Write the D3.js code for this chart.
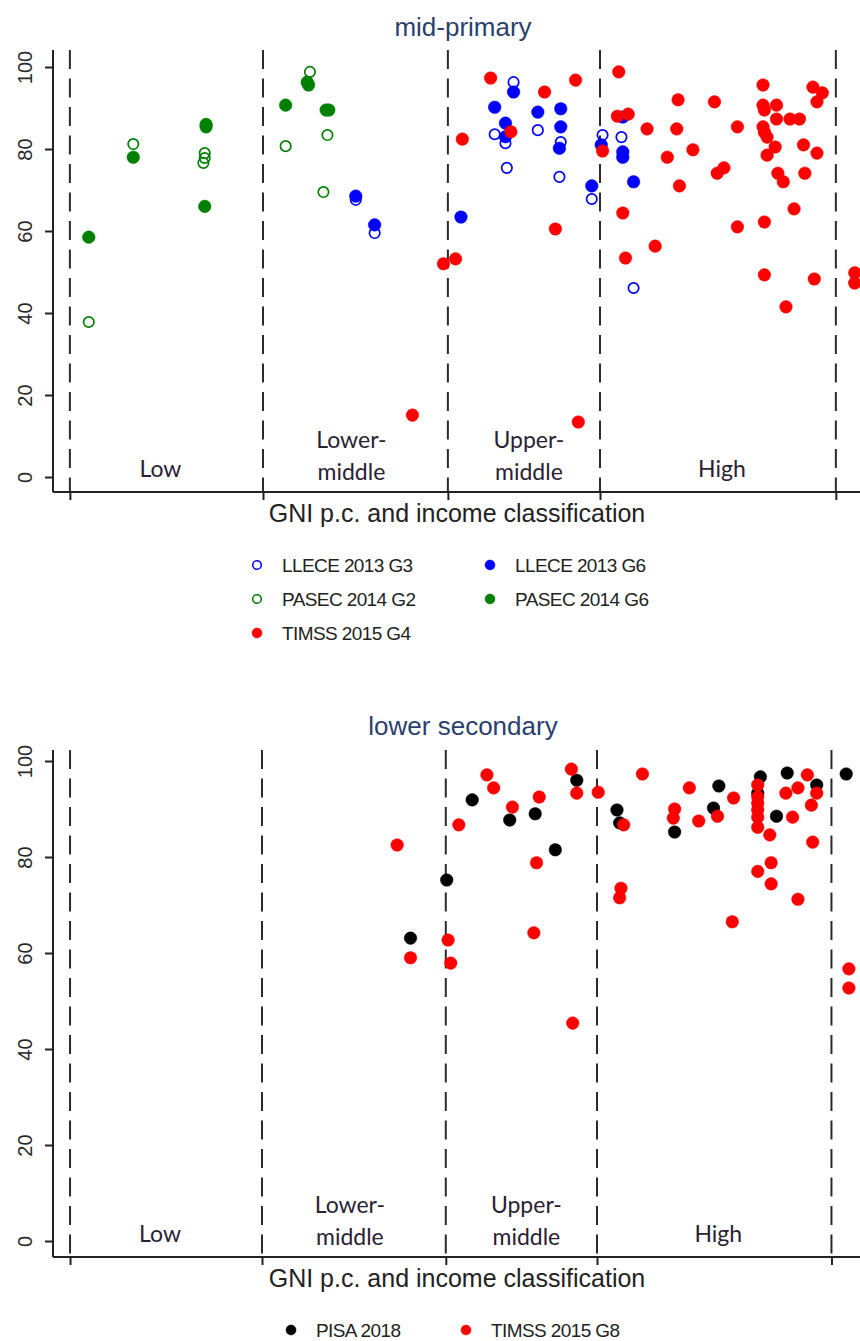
<!DOCTYPE html>
<html>
<head>
<meta charset="utf-8">
<script src="https://cdn.jsdelivr.net/npm/d3@7/dist/d3.min.js"></script>
<style>
  body { margin: 0; background: #fff; }
  svg { display: block; }
</style>
</head>
<body>
<div id="chart"></div>
<script>
// x = ln(GNI per capita), y = percent of students
const incomeBreaks = [5.5, 6.932, 8.303, 9.431, 11.18]
const incomeGroups = [["Low"], ["Lower-", "middle"], ["Upper-", "middle"], ["High"]]
const yTicks = [0, 20, 40, 60, 80, 100]

// mid-primary
const llece2013G3 = [[7.62,67.6],[7.76,59.5],[8.79,96.3],[8.65,83.6],[8.73,81.4],[8.74,75.4],[8.97,84.6],
  [9.14,81.7],[9.13,73.2],[9.37,67.8],[9.45,83.4],[9.59,82.9],[9.68,46.1]]
const llece2013G6 = [[7.62,68.5],[7.76,61.5],[8.40,63.4],[8.79,93.9],[8.65,90.2],[8.73,86.3],[8.73,83],
  [8.97,89],[9.14,89.8],[9.14,85.4],[9.13,80.2],[9.37,71],[9.44,81],[9.60,87.8],[9.60,79.3],[9.60,78],[9.68,72]]
const pasec2014G2 = [[5.64,37.8],[5.97,81.2],[6.50,79],[6.50,77.8],[6.49,76.6],[7.10,80.7],[7.28,98.8],
  [7.41,83.4],[7.38,69.5]]
const pasec2014G6 = [[5.64,58.5],[5.97,78],[6.51,85.4],[6.51,86],[6.50,66],[7.10,90.7],[7.27,95.6],
  [7.26,96.3],[7.40,89.5],[7.42,89.5]]
const timss2015G4 = [[8.04,15.1],[8.27,52],[8.36,53.2],[8.41,82.4],[8.62,97.3],[8.77,84.2],[9.02,93.9],
  [9.25,96.8],[9.10,60.5],[9.27,13.4],[9.45,79.5],[9.57,98.8],[9.56,88],[9.64,88.5],[9.60,64.4],[9.62,53.4],
  [9.78,84.9],[9.84,56.3],[9.93,78],[10.00,84.9],[10.01,92],[10.02,71],[10.12,79.8],[10.28,91.5],[10.30,74.1],
  [10.35,75.4],[10.45,61],[10.45,85.4],[10.64,95.6],[10.64,90.7],[10.65,89.5],[10.64,85.4],[10.65,84.1],
  [10.67,82.9],[10.74,90.7],[10.74,87.3],[10.73,80.5],[10.67,78.5],[10.75,74.1],[10.79,72],[10.65,62.2],
  [10.65,49.3],[10.84,87.3],[10.91,87.3],[10.87,65.4],[10.81,41.5],[10.94,81],[10.95,74.1],[11.04,79],
  [11.01,95.1],[11.08,93.7],[11.04,91.5],[11.02,48.3],[11.32,49.8],[11.32,47.3]]

// lower secondary
const pisa2018 = [[8.04,63.1],[8.31,75.2],[8.50,91.9],[8.78,87.7],[8.97,89],[9.12,81.5],[9.28,96],[9.58,89.8],
  [9.60,87.1],[10.01,85.2],[10.30,90.2],[10.34,94.8],[10.65,96.7],[10.63,93.3],[10.77,88.5],[10.85,97.5],
  [11.07,95],[11.29,97.3]]
const timss2015G8 = [[7.94,82.5],[8.04,59],[8.32,62.7],[8.34,57.9],[8.40,86.7],[8.61,97.1],[8.66,94.4],
  [8.80,90.4],[9.00,92.5],[8.98,78.8],[8.96,64.2],[9.24,98.3],[9.28,93.3],[9.25,45.4],[9.44,93.5],[9.63,86.7],
  [9.61,73.5],[9.60,71.5],[9.77,97.3],[10.01,90],[10.00,88.1],[10.12,94.4],[10.19,87.5],[10.33,88.5],
  [10.44,66.5],[10.45,92.3],[10.63,95],[10.63,92.5],[10.63,91.2],[10.63,89.8],[10.63,88.3],[10.63,86.2],
  [10.63,77],[10.72,84.6],[10.73,78.8],[10.73,74.4],[10.84,93.3],[10.93,94.4],[10.89,88.3],[10.93,71.2],
  [11.00,97.1],[11.07,93.3],[11.03,90.8],[11.04,83.1],[11.31,56.7],[11.31,52.7]]

const W = 860, H = 1341
const fontMain = "'Liberation Sans', Arial, sans-serif"
const fontLabel = "Lato, 'Open Sans', sans-serif"
const labelShift = [-6, -4, 5, 4]

const panels = [
  {
    title: "mid-primary", titleY: 36, top: 50, axisY: 492, y0: 477, y100: 67, xr: [263, 600],
    series: [
      { name: "LLECE 2013 G3", data: llece2013G3, color: "#0000ff", hollow: true, col: 0, row: 0 },
      { name: "LLECE 2013 G6", data: llece2013G6, color: "#0000ff", hollow: false, col: 1, row: 0 },
      { name: "PASEC 2014 G2", data: pasec2014G2, color: "#008000", hollow: true, col: 0, row: 1 },
      { name: "PASEC 2014 G6", data: pasec2014G6, color: "#008000", hollow: false, col: 1, row: 1 },
      { name: "TIMSS 2015 G4", data: timss2015G4, color: "#ff0000", hollow: false, col: 0, row: 2 }
    ],
    legendX: [257, 490], legendY: [565, 599, 633]
  },
  {
    title: "lower secondary", titleY: 735, top: 750, axisY: 1257, y0: 1241, y100: 761, xr: [262, 597],
    series: [
      { name: "PISA 2018", data: pisa2018, color: "#000000", hollow: false, col: 0, row: 0 },
      { name: "TIMSS 2015 G8", data: timss2015G8, color: "#ff0000", hollow: false, col: 1, row: 0 }
    ],
    legendX: [291, 466], legendY: [1330]
  }
]

const svg = d3.select("#chart").append("svg")
  .attr("width", W)
  .attr("height", H)
  .style("font-family", fontMain)

const yAxisX = 53

panels.forEach(p => {
  const x = d3.scaleLinear().domain([incomeBreaks[1], incomeBreaks[3]]).range(p.xr)
  const y = d3.scaleLinear().domain([0, 100]).range([p.y0, p.y100])
  const g = svg.append("g")

  // title
  g.append("text")
    .attr("x", 463).attr("y", p.titleY)
    .attr("text-anchor", "middle")
    .attr("font-size", 26)
    .attr("fill", "#2a3f6e")
    .text(p.title)

  // dashed income cut-offs
  g.selectAll(".cut").data(incomeBreaks).enter().append("line")
    .attr("x1", d => x(d)).attr("x2", d => x(d))
    .attr("y1", p.top).attr("y2", p.axisY)
    .attr("stroke", "#2b2b2b").attr("stroke-width", 2)
    .attr("stroke-dasharray", "19,9.5")

  // y axis
  const ya = g.append("g")
    .attr("transform", `translate(${yAxisX},0)`)
    .call(d3.axisLeft(y).tickValues(yTicks).tickSize(8).tickSizeOuter(0))
  ya.select(".domain").attr("d", `M0,${p.top}V${p.axisY}`).attr("stroke", "#222").attr("stroke-width", 2)
  ya.selectAll(".tick line").attr("stroke", "#222").attr("stroke-width", 2)
  ya.selectAll(".tick text")
    .attr("x", null).attr("dy", null)
    .attr("transform", "translate(-28,0) rotate(-90)")
    .attr("text-anchor", "middle")
    .attr("dominant-baseline", "central")
    .attr("font-family", fontMain)
    .attr("font-size", 20)
    .attr("fill", "#2a2a2a")

  // x axis
  const xa = g.append("g")
    .attr("transform", `translate(0,${p.axisY})`)
    .call(d3.axisBottom(x).tickValues(incomeBreaks).tickSize(8).tickFormat(""))
  xa.select(".domain").attr("d", `M${yAxisX},0H${W}`).attr("stroke", "#222").attr("stroke-width", 2)
  xa.selectAll(".tick line").attr("stroke", "#222").attr("stroke-width", 2)

  g.append("text")
    .attr("x", 457).attr("y", p.axisY + 30)
    .attr("text-anchor", "middle")
    .attr("font-size", 25)
    .attr("fill", "#222")
    .text("GNI p.c. and income classification")

  // income group labels
  incomeGroups.forEach((lines, i) => {
    const cx = (x(incomeBreaks[i]) + x(incomeBreaks[i + 1])) / 2 + labelShift[i]
    const t = g.append("text")
      .attr("text-anchor", "middle")
      .attr("font-family", fontLabel)
      .attr("font-size", 23)
      .attr("fill", "#2a2233")
    if (lines.length === 1) {
      t.append("tspan").attr("x", cx).attr("y", p.axisY - 15).text(lines[0])
    } else {
      t.append("tspan").attr("x", cx).attr("y", p.axisY - 44).text(lines[0])
      t.append("tspan").attr("x", cx).attr("y", p.axisY - 12).text(lines[1])
    }
  })

  // points
  p.series.forEach(s => {
    g.append("g").selectAll("circle").data(s.data).enter().append("circle")
      .attr("cx", d => x(d[0]))
      .attr("cy", d => y(d[1]))
      .attr("r", s.hollow ? 5.2 : 6.3)
      .attr("fill", s.hollow ? "none" : s.color)
      .attr("stroke", s.color)
      .attr("stroke-width", s.hollow ? 1.7 : 0.5)
  })

  // legend
  const lg = g.append("g")
  p.series.forEach(s => {
    const lx = p.legendX[s.col], ly = p.legendY[s.row]
    lg.append("circle")
      .attr("cx", lx).attr("cy", ly)
      .attr("r", s.hollow ? 4.3 : 5)
      .attr("fill", s.hollow ? "none" : s.color)
      .attr("stroke", s.color)
      .attr("stroke-width", s.hollow ? 1.6 : 0.5)
    lg.append("text")
      .attr("x", lx + 25).attr("y", ly)
      .attr("dominant-baseline", "central")
      .attr("font-size", 19)
      .attr("letter-spacing", -0.6)
      .attr("fill", "#222")
      .text(s.name)
  })
})
</script>
</body>
</html>
